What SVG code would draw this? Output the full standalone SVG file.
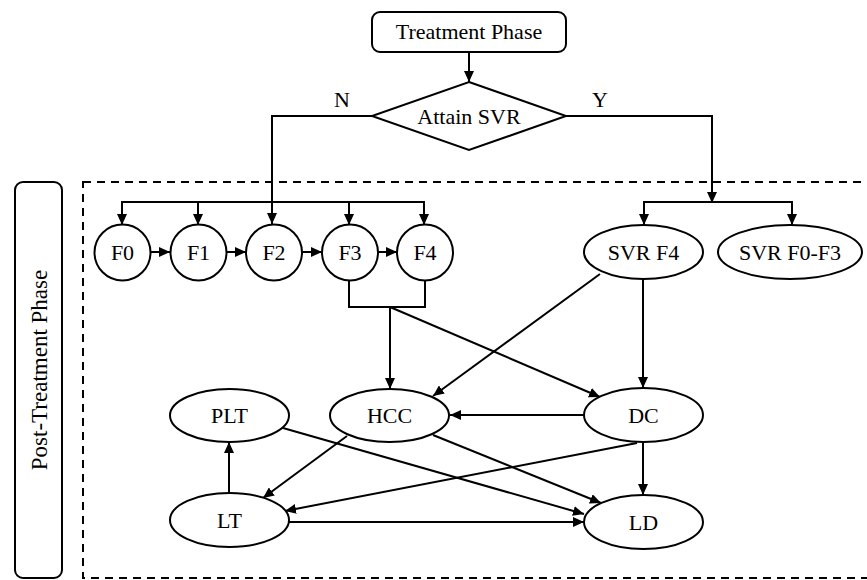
<svg xmlns="http://www.w3.org/2000/svg" width="867" height="580" viewBox="0 0 867 580">
<style>
.n{fill:#fff;stroke:#000;stroke-width:2}
.t{font-family:"Liberation Serif","Times New Roman",serif;font-size:22px;fill:#000;text-anchor:middle}
.c{fill:none;stroke:#000;stroke-width:2}
.a{marker-end:url(#arr)}
</style>
<defs>
<marker id="arr" markerUnits="userSpaceOnUse" markerWidth="12" markerHeight="10" refX="11" refY="5" orient="auto">
<path d="M0,0 L11,5 L0,10 z" fill="#000"/>
</marker>
</defs>
<rect width="867" height="580" fill="#fff"/>
<g id="frame">
<rect x="83" y="182" width="790" height="396" fill="none" stroke="#000" stroke-width="2" stroke-dasharray="8,6"/>
</g>
<g id="post-treatment">
<rect class="n" x="15" y="182" width="47" height="396" rx="8"/>
<text class="t" style="font-size:23px" transform="translate(47,370) rotate(-90)">Post-Treatment Phase</text>
</g>
<g id="connectors">
<line class="c a" x1="469" y1="52" x2="469" y2="82"/>
<polyline class="c" points="372,116 272,116 272,210"/>
<line class="c a" x1="272" y1="200" x2="272" y2="224"/>
<polyline class="c" points="122,224 122,202 424,202 424,224"/>
<line class="c a" x1="122" y1="202" x2="122" y2="225"/>
<line class="c a" x1="198" y1="202" x2="198" y2="225"/>
<line class="c a" x1="349" y1="202" x2="349" y2="225"/>
<line class="c a" x1="424" y1="202" x2="424" y2="225"/>
<line class="c a" x1="151" y1="252" x2="170" y2="252"/>
<line class="c a" x1="227" y1="252" x2="246" y2="252"/>
<line class="c a" x1="302" y1="252" x2="322" y2="252"/>
<line class="c a" x1="378" y1="252" x2="397" y2="252"/>
<polyline class="c" points="566,116 712,116 712,200"/>
<line class="c a" x1="712" y1="190" x2="712" y2="203"/>
<polyline class="c" points="644,224 644,202 792,202 792,224"/>
<line class="c a" x1="644" y1="202" x2="644" y2="225"/>
<line class="c a" x1="792" y1="202" x2="792" y2="225"/>
<polyline class="c" points="349,280 349,307 425,307 425,280"/>
<line class="c a" x1="390" y1="307" x2="390" y2="389"/>
<line class="c a" x1="390" y1="307" x2="600" y2="397"/>
<line class="c a" x1="600" y1="274" x2="433" y2="396"/>
<line class="c a" x1="643" y1="279" x2="643" y2="388"/>
<line class="c a" x1="584" y1="415" x2="450" y2="415"/>
<line class="c a" x1="643" y1="442" x2="643" y2="495"/>
<line class="c a" x1="637" y1="443" x2="285" y2="511"/>
<line class="c a" x1="347" y1="436" x2="263" y2="498"/>
<line class="c a" x1="433" y1="435" x2="601" y2="503"/>
<line class="c a" x1="283" y1="428" x2="584" y2="514"/>
<line class="c a" x1="289" y1="522" x2="584" y2="522"/>
<line class="c a" x1="229" y1="493" x2="229" y2="442"/>
</g>
<g id="treatment-phase">
<rect class="n" x="372" y="12" width="194" height="40" rx="8"/>
<text class="t" x="469" y="39">Treatment Phase</text>
</g>
<g id="attain-svr">
<polygon class="n" points="469,82 566,116 469,150 372,116"/>
<text class="t" x="469" y="124">Attain SVR</text>
</g>
<g id="label-n"><text class="t" x="342" y="107">N</text></g>
<g id="label-y"><text class="t" x="600" y="107">Y</text></g>
<g id="f0"><circle class="n" cx="122.5" cy="252.5" r="28"/><text class="t" x="122.5" y="260">F0</text></g>
<g id="f1"><circle class="n" cx="198.5" cy="252.5" r="28"/><text class="t" x="198.5" y="260">F1</text></g>
<g id="f2"><circle class="n" cx="274" cy="252.5" r="28"/><text class="t" x="274" y="260">F2</text></g>
<g id="f3"><circle class="n" cx="350" cy="252.5" r="28"/><text class="t" x="350" y="260">F3</text></g>
<g id="f4"><circle class="n" cx="425" cy="252.5" r="28"/><text class="t" x="425" y="260">F4</text></g>
<g id="svr-f4"><ellipse class="n" cx="643.5" cy="252" rx="59.5" ry="27"/><text class="t" x="643.5" y="260">SVR F4</text></g>
<g id="svr-f0-f3"><ellipse class="n" cx="790" cy="252" rx="72" ry="27"/><text class="t" x="790" y="260">SVR F0-F3</text></g>
<g id="plt"><ellipse class="n" cx="229.5" cy="415.5" rx="59.5" ry="26.5"/><text class="t" x="229.5" y="423">PLT</text></g>
<g id="hcc"><ellipse class="n" cx="389.5" cy="415.5" rx="59.5" ry="26.5"/><text class="t" x="389.5" y="423">HCC</text></g>
<g id="dc"><ellipse class="n" cx="643.5" cy="415" rx="59.5" ry="27"/><text class="t" x="643.5" y="423">DC</text></g>
<g id="lt"><ellipse class="n" cx="229.5" cy="520" rx="59.5" ry="27"/><text class="t" x="229.5" y="528">LT</text></g>
<g id="ld"><ellipse class="n" cx="643.5" cy="522" rx="59.5" ry="27"/><text class="t" x="643.5" y="530">LD</text></g>
</svg>
